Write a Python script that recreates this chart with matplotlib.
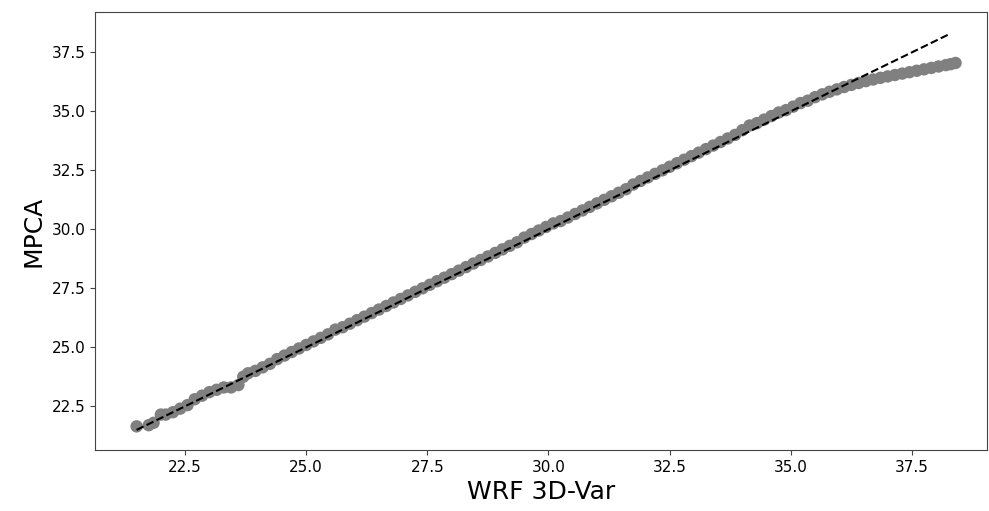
import numpy as np
import matplotlib.pyplot as plt

# scatter values: WRF 3D-Var (x) against MPCA (y)
wrf = [21.50, 21.75, 21.85, 22.00, 22.10, 22.25, 22.40, 22.55, 22.70, 22.85,
       23.00, 23.15, 23.30, 23.45, 23.60, 23.70, 23.80, 23.95, 24.10, 24.25,
       24.40, 24.55, 24.70, 24.85, 25.00, 25.15, 25.30, 25.45, 25.60, 25.75,
       25.90, 26.05, 26.20, 26.35, 26.50, 26.65, 26.80, 26.95, 27.10, 27.25,
       27.40, 27.55, 27.70, 27.85, 28.00, 28.15, 28.30, 28.45, 28.60, 28.75,
       28.90, 29.05, 29.20, 29.35, 29.50, 29.65, 29.80, 29.95, 30.10, 30.25,
       30.40, 30.55, 30.70, 30.85, 31.00, 31.15, 31.30, 31.45, 31.60, 31.75,
       31.90, 32.05, 32.20, 32.35, 32.50, 32.65, 32.80, 32.95, 33.10, 33.25,
       33.40, 33.55, 33.70, 33.85, 34.00, 34.15, 34.30, 34.45, 34.60, 34.75,
       34.90, 35.05, 35.20, 35.35, 35.50, 35.65, 35.80, 35.95, 36.10, 36.25,
       36.40, 36.55, 36.70, 36.85, 37.00, 37.15, 37.30, 37.45, 37.60, 37.75,
       37.90, 38.05, 38.20, 38.30, 38.40]
mpca = [21.65, 21.70, 21.80, 22.15, 22.15, 22.25, 22.40, 22.55, 22.80, 22.95,
        23.10, 23.20, 23.30, 23.30, 23.40, 23.75, 23.90, 24.00, 24.15, 24.30,
        24.50, 24.65, 24.80, 24.95, 25.10, 25.25, 25.40, 25.55, 25.75, 25.85,
        26.00, 26.15, 26.30, 26.45, 26.60, 26.75, 26.90, 27.05, 27.20, 27.35,
        27.50, 27.65, 27.80, 27.95, 28.10, 28.25, 28.40, 28.55, 28.70, 28.85,
        29.00, 29.15, 29.30, 29.45, 29.65, 29.80, 29.95, 30.10, 30.25, 30.35,
        30.50, 30.65, 30.80, 30.95, 31.10, 31.25, 31.40, 31.55, 31.70, 31.90,
        32.05, 32.20, 32.35, 32.50, 32.65, 32.80, 32.95, 33.10, 33.25, 33.40,
        33.55, 33.70, 33.85, 34.00, 34.20, 34.40, 34.50, 34.65, 34.80, 34.95,
        35.05, 35.20, 35.35, 35.45, 35.60, 35.72, 35.83, 35.93, 36.03, 36.12,
        36.20, 36.28, 36.35, 36.42, 36.48, 36.54, 36.60, 36.66, 36.72, 36.78,
        36.84, 36.90, 36.96, 37.00, 37.05]

# 1:1 reference line
ref_line = [21.5, 38.3]

fig = plt.figure(figsize=(9.89, 5.11), dpi=100)
ax = fig.add_axes([0.096, 0.119, 0.902, 0.858])

ax.scatter(wrf, mpca, s=80, color='#808080', edgecolors='none', zorder=2)
ax.plot(ref_line, ref_line, 'k--', lw=1.5, zorder=3)

ax.set_xlim(20.64, 39.05)
ax.set_ylim(20.64, 39.22)
ax.set_xticks([22.5, 25.0, 27.5, 30.0, 32.5, 35.0, 37.5])
ax.set_yticks([22.5, 25.0, 27.5, 30.0, 32.5, 35.0, 37.5])
ax.tick_params(labelsize=11, color='#444444')
for sp in ax.spines.values():
    sp.set_color('#444444')

ax.set_xlabel('WRF 3D-Var', fontsize=18)
ax.set_ylabel('MPCA', fontsize=18)

fig.savefig('out.png', dpi=100)
